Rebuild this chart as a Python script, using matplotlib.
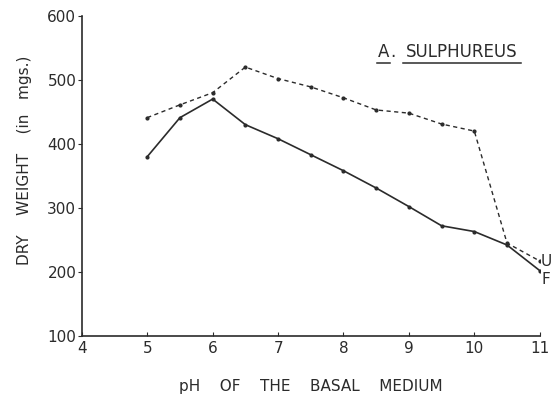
import matplotlib.pyplot as plt

# pH del medio basal
ph = [5, 5.5, 6, 6.5, 7, 7.5, 8, 8.5, 9, 9.5, 10, 10.5, 11]
# peso seco (mg) - F (linea continua) y U (linea discontinua)
peso_f = [380, 441, 470, 430, 408, 383, 358, 331, 302, 272, 263, 242, 202]
peso_u = [441, 461, 480, 520, 502, 489, 472, 453, 448, 431, 420, 245, 217]

x_ticks = [4, 5, 6, 7, 8, 9, 10, 11]
y_ticks = [100, 200, 300, 400, 500, 600]

tinta = '#2b2b2b'
plt.rcParams['font.family'] = ['DejaVu Sans']

fig = plt.figure(figsize=(5.53, 3.97), dpi=100)
ax = fig.add_axes([0.148, 0.154, 0.828, 0.806])

ax.plot(ph, peso_f, color=tinta, linewidth=1.2, marker='o', markersize=2)
ax.plot(ph, peso_u, color=tinta, linewidth=1.0, linestyle=(0, (3, 2.5)),
        marker='o', markersize=2)

ax.text(11.02, 216, 'U', fontsize=11, color=tinta, va='center')
ax.text(11.02, 188, 'F', fontsize=11, color=tinta, va='center')

# titulo con subrayado
ax.text(8.61, 543, 'A', fontsize=12, color=tinta, ha='center', va='center')
ax.text(8.76, 543, '.', fontsize=12, color=tinta, ha='center', va='center')
ax.text(9.81, 543, 'SULPHUREUS', fontsize=12, color=tinta, ha='center', va='center')
ax.plot([8.51, 8.71], [527, 527], color=tinta, linewidth=1.1)
ax.plot([8.91, 10.71], [527, 527], color=tinta, linewidth=1.1)

ax.set_xlim(4, 11)
ax.set_ylim(100, 600)
ax.set_xticks(x_ticks)
ax.set_yticks(y_ticks)
ax.set_xticklabels([str(t) for t in x_ticks], fontsize=11, color=tinta)
ax.set_yticklabels([str(t) for t in y_ticks], fontsize=11, color=tinta)
ax.tick_params(axis='x', direction='in', length=3, pad=4, color=tinta)
ax.tick_params(axis='y', direction='out', length=3, pad=1, color=tinta)

for lado in ['top', 'right']:
    ax.spines[lado].set_visible(False)
for lado in ['left', 'bottom']:
    ax.spines[lado].set_color(tinta)
    ax.spines[lado].set_linewidth(1.2)

ax.set_xlabel('pH    OF    THE    BASAL    MEDIUM', fontsize=11, color=tinta, labelpad=16)
ax.set_ylabel('DRY    WEIGHT    (in   mgs.)', fontsize=11, color=tinta, labelpad=14)
ax.yaxis.set_label_coords(-0.108, 0.55)

fig.savefig('out.png', dpi=100)
